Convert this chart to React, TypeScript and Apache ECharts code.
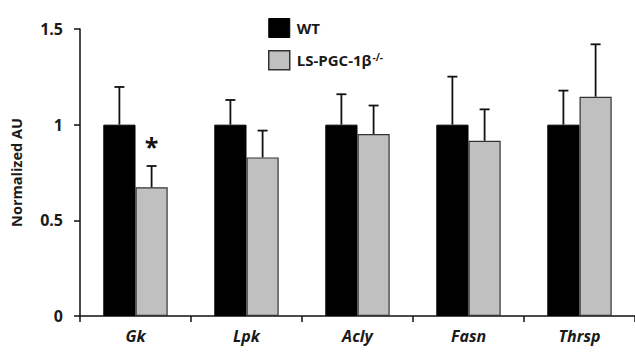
import React, { useEffect, useRef } from "react";
import * as echarts from "echarts";

const categories = ["Gk", "Lpk", "Acly", "Fasn", "Thrsp"];
const wtValues = [1, 1, 1, 1, 1];
const wtErrors = [0.197, 0.129, 0.159, 0.251, 0.178];
const koValues = [0.673, 0.829, 0.951, 0.916, 1.146];
const koErrors = [0.111, 0.14, 0.149, 0.164, 0.274];
const koSignificance = ["*", "", "", "", ""];
const yTicks = { min: 0, max: 1.5, interval: 0.5 };

const WT_NAME = "WT";
const KO_NAME = "LS-PGC-1β-/-";
const FONT = "Open Sans";

function errorSeries(values: number[], errors: number[], offsetFrac: number, sig: string[] | null) {
  return {
    type: "custom",
    z: 5,
    silent: true,
    encode: { x: 0, y: 1 },
    data: values.map((v, i) => [i, v, errors[i]]),
    renderItem: (params: any, api: any) => {
      const idx = api.value(0);
      const val = api.value(1);
      const err = api.value(2);
      const band = api.size([1, 0])[0];
      const base = api.coord([idx, val]);
      const top = api.coord([idx, val + err]);
      const x = base[0] + offsetFrac * band;
      const children: any[] = [
        {
          type: "line",
          shape: { x1: x, y1: base[1], x2: x, y2: top[1] },
          style: { stroke: "#111", lineWidth: 1.8 },
        },
        {
          type: "line",
          shape: { x1: x - 5, y1: top[1], x2: x + 5, y2: top[1] },
          style: { stroke: "#111", lineWidth: 1.8 },
        },
      ];
      if (sig && sig[idx]) {
        children.push({
          type: "text",
          style: {
            text: sig[idx],
            x: x,
            y: top[1] - 20,
            align: "center",
            verticalAlign: "middle",
            font: `bold 25px "${FONT}"`,
            fill: "#111",
          },
        });
      }
      return { type: "group", children };
    },
  };
}

export default function App() {
  const ref = useRef<HTMLDivElement>(null);
  useEffect(() => {
    if (!ref.current) return;
    const chart = echarts.init(ref.current, undefined, { renderer: "svg" });
    const gap = 0.42;
    const barFrac = (1 - gap) / 2;
    chart.setOption({
      animation: false,
      textStyle: { fontFamily: FONT },
      grid: { left: 80, right: 0, top: 29, bottom: 37, containLabel: false },
      legend: {
        orient: "vertical",
        left: 263,
        top: 13,
        itemWidth: 21,
        itemHeight: 19,
        itemGap: 12,
        icon: "rect",
        data: [
          { name: WT_NAME, itemStyle: { color: "#000", borderColor: "#000", borderWidth: 1 } },
          { name: KO_NAME, itemStyle: { color: "#c0c0c0", borderColor: "#333", borderWidth: 1.5 } },
        ],
        formatter: (name: string) =>
          name === KO_NAME ? "{b|LS-PGC-1β}{s|-/-}" : "{b|WT}",
        textStyle: {
          rich: {
            b: { fontFamily: FONT, fontWeight: "bold", fontSize: 15, color: "#1a1a1a", padding: [0, 0, 0, 2] },
            s: { fontFamily: FONT, fontWeight: "bold", fontSize: 10, color: "#1a1a1a", verticalAlign: "top", padding: [0, 0, 6, 1] },
          },
        },
      },
      xAxis: {
        type: "category",
        data: categories,
        axisLine: { lineStyle: { color: "#111", width: 1.5 } },
        axisTick: { show: true, length: 6, lineStyle: { color: "#111", width: 1.5 } },
        axisLabel: {
          margin: 12,
          fontFamily: FONT,
          fontSize: 16,
          fontWeight: "bold",
          fontStyle: "italic",
          color: "#1a1a1a",
        },
      },
      yAxis: {
        type: "value",
        min: yTicks.min,
        max: yTicks.max,
        interval: yTicks.interval,
        name: "Normalized AU",
        nameLocation: "middle",
        nameGap: 56,
        nameRotate: 90,
        nameTextStyle: { fontFamily: FONT, fontSize: 14.5, fontWeight: "bold", color: "#1a1a1a" },
        splitLine: { show: false },
        axisLine: { show: true, lineStyle: { color: "#111", width: 1.5 } },
        axisTick: { show: true, length: 6, lineStyle: { color: "#111", width: 1.5 } },
        axisLabel: {
          margin: 17,
          fontFamily: FONT,
          fontSize: 16,
          fontWeight: "bold",
          color: "#1a1a1a",
          formatter: (v: number) => String(v),
        },
      },
      series: [
        {
          name: WT_NAME,
          type: "bar",
          data: wtValues,
          barGap: "0%",
          barCategoryGap: `${gap * 100}%`,
          itemStyle: { color: "#000", borderColor: "#000", borderWidth: 1 },
        },
        {
          name: KO_NAME,
          type: "bar",
          data: koValues,
          barGap: "0%",
          barCategoryGap: `${gap * 100}%`,
          itemStyle: { color: "#c0c0c0", borderColor: "#333", borderWidth: 1.2 },
        },
        errorSeries(wtValues, wtErrors, -barFrac / 2, null),
        errorSeries(koValues, koErrors, barFrac / 2, koSignificance),
      ],
    });
    return () => chart.dispose();
  }, []);
  return <div ref={ref} style={{ width: 635, height: 353, position: "absolute", left: 0, top: 0 }} />;
}
